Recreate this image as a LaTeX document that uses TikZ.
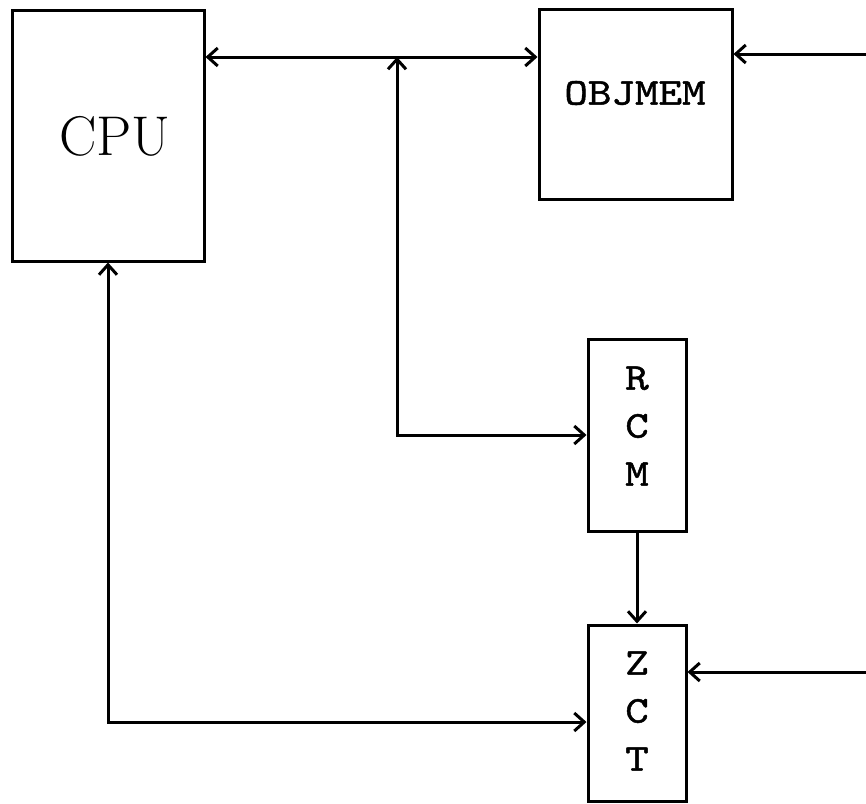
\documentclass[tikz,border=0pt]{standalone}
\usepackage{fontspec}
\usetikzlibrary{arrows.meta}
\newfontfamily\twfont[FakeBold=1.2,FakeStretch=1.18]{lmmono10-regular.otf}
\begin{document}
\begin{tikzpicture}[x=1pt,y=1pt,
  box/.style={draw,line width=3pt,inner sep=0pt,anchor=center},
  lbl/.style={inner sep=0pt,align=center,font=\twfont\fontsize{38}{48}\selectfont},
  >={Straight Barb[length=10pt,width=18pt]},
  conn/.style={line width=3pt}]
\useasboundingbox (0,0) rectangle (866,-803);
\node[box,minimum width=192pt,minimum height=251pt] (cpu) at (108,-135.5) {};
\node[box,minimum width=193pt,minimum height=190pt] (objmem) at (635.5,-104) {};
\node[box,minimum width=98pt,minimum height=192pt] (rcm) at (637,-435) {};
\node[box,minimum width=98pt,minimum height=176pt] (zct) at (637,-713) {};
\node[inner sep=0pt,font=\fontsize{56}{64}\selectfont] (cputext) at (115,-136) {CPU};
\node[lbl] (objtext) at (635,-93) {OBJMEM};
\node[lbl] (rcmtext) at (637,-426) {R\\C\\M};
\node[lbl] (zcttext) at (637,-711) {Z\\C\\T};
\coordinate (j) at (397,-57);
\coordinate (r1) at (866,-54);
\coordinate (r2) at (866,-672);
\coordinate (c) at (108,-722);
\draw[conn,<->] (cpu.east|-j) -- (objmem.west|-j);
\draw[conn,<->] (j) |- (rcm.west);
\draw[conn,->] (r1) -- (objmem.east|-r1);
\draw[conn,->] (rcm.south) -- (zct.north);
\draw[conn,<->] (cpu.south) |- (zct.west|-c);
\draw[conn,->] (r2) -- (zct.east|-r2);
\end{tikzpicture}
\end{document}
